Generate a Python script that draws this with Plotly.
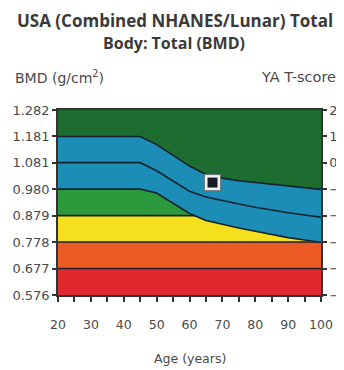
import plotly.graph_objects as go

# ---- data ----
bmd_ticks = [0.576, 0.677, 0.778, 0.879, 0.980, 1.081, 1.181, 1.282]
bmd_tick_labels = ["0.576", "0.677", "0.778", "0.879", "0.980", "1.081", "1.181", "1.282"]
t_ticks = [-5, -4, -3, -2, -1, 0, 1, 2]
age_ticks = [20, 30, 40, 50, 60, 70, 80, 90, 100]

# background bands (bottom to top): lower edge, upper edge, colour
band_lo = [0.576, 0.677, 0.778, 0.879, 0.980]
band_hi = [0.677, 0.778, 0.879, 0.980, 1.282]
band_colors = ["#e0282e", "#ec5a24", "#f4e01c", "#2b9a3c", "#1d6d31"]

# age-matched reference curves
ages = [20, 25, 30, 35, 40, 45, 50, 55, 60, 65, 70, 75, 80, 85, 90, 95, 100]
upper = [1.181, 1.181, 1.181, 1.181, 1.181, 1.181, 1.150, 1.110, 1.068, 1.036, 1.022, 1.012, 1.005, 0.998, 0.992, 0.985, 0.979]
mean = [1.081, 1.081, 1.081, 1.081, 1.081, 1.081, 1.050, 1.010, 0.972, 0.950, 0.936, 0.923, 0.911, 0.900, 0.890, 0.881, 0.873]
lower = [0.980, 0.980, 0.980, 0.980, 0.980, 0.980, 0.965, 0.927, 0.887, 0.860, 0.845, 0.832, 0.819, 0.806, 0.795, 0.786, 0.777]

patient_age = [67]
patient_bmd = [1.005]

x0, x1 = age_ticks[0], age_ticks[-1]
line_col = "#16222e"

fig = go.Figure()

for lo, hi, c in zip(band_lo, band_hi, band_colors):
    fig.add_trace(go.Scatter(x=[x0, x1, x1, x0, x0], y=[lo, lo, hi, hi, lo], fill="toself",
                             fillcolor=c, mode="lines", line=dict(width=0),
                             hoverinfo="skip", showlegend=False))
# band boundary lines
for bnd in band_lo[1:]:
    fig.add_trace(go.Scatter(x=[x0, x1], y=[bnd, bnd], mode="lines",
                             line=dict(color=line_col, width=1.6),
                             hoverinfo="skip", showlegend=False))

# blue reference band
fig.add_trace(go.Scatter(x=ages, y=lower, mode="lines", line=dict(width=0),
                         hoverinfo="skip", showlegend=False))
fig.add_trace(go.Scatter(x=ages, y=upper, mode="lines", line=dict(width=0), fill="tonexty",
                         fillcolor="#1b8db6", hoverinfo="skip", showlegend=False))
for curve in (upper, mean, lower):
    fig.add_trace(go.Scatter(x=ages, y=curve, mode="lines",
                             line=dict(color=line_col, width=1.6),
                             hoverinfo="skip", showlegend=False))

# patient marker
fig.add_trace(go.Scatter(x=patient_age, y=patient_bmd, mode="markers",
                         marker=dict(symbol="square", size=17, color="#6d7a80"),
                         hoverinfo="skip", showlegend=False))
fig.add_trace(go.Scatter(x=patient_age, y=patient_bmd, mode="markers",
                         marker=dict(symbol="square", size=15, color="#f2f2f2"),
                         hoverinfo="skip", showlegend=False))
fig.add_trace(go.Scatter(x=patient_age, y=patient_bmd, mode="markers",
                         marker=dict(symbol="square", size=10, color="#1a1a26"),
                         hoverinfo="skip", showlegend=False))

# secondary axis for T-score
fig.add_trace(go.Scatter(x=[x0], y=[t_ticks[0]], yaxis="y2", mode="markers",
                         marker=dict(opacity=0), hoverinfo="skip", showlegend=False))

# page body has an 8px margin; the figure is sized to fit the window
OFF = 8
W, H = 344 - OFF, 370 - OFF
l, r, t, b = 58 - OFF, 344 - 321, 110 - OFF, 370 - 295
pw, ph = W - l - r, H - t - b

tick_font = "DejaVu Sans, sans-serif"
txt_col = "#4a4a4a"
fig.update_layout(
    width=W, height=H,
    margin=dict(l=l, r=r, t=t, b=b, autoexpand=False),
    paper_bgcolor="white", plot_bgcolor="white",
    font=dict(family=tick_font, size=12, color=txt_col),
    xaxis=dict(range=[x0, x1], tickvals=list(range(x0, x1 + 1, 5)),
               ticktext=[str(a) if a in age_ticks else "" for a in range(x0, x1 + 1, 5)],
               ticks="outside", ticklen=5, tickwidth=1.5, tickcolor="#333",
               showline=True, linecolor="#333", linewidth=1.5, mirror=True,
               showgrid=False, zeroline=False, ticklabelstandoff=12, automargin=False,
               tickfont=dict(family=tick_font, size=12.5, color=txt_col)),
    yaxis=dict(range=[bmd_ticks[0], bmd_ticks[-1]], tickvals=bmd_ticks, ticktext=bmd_tick_labels,
               ticks="outside", ticklen=4, tickwidth=1.5, tickcolor="#333",
               showline=True, linecolor="#333", linewidth=1.5, automargin=False,
               showgrid=False, zeroline=False,
               tickfont=dict(family=tick_font, size=13, color=txt_col)),
    yaxis2=dict(range=[t_ticks[0], t_ticks[-1]], tickvals=t_ticks, overlaying="y", side="right",
                ticks="outside", ticklen=4, tickwidth=1.5, tickcolor="#333",
                showline=True, linecolor="#333", linewidth=1.5, automargin=False,
                showgrid=False, zeroline=False,
                tickfont=dict(family=tick_font, size=13, color=txt_col)),
)

title_font1 = dict(family="Open Sans, sans-serif", size=17, color="#3a3a3a")
title_font2 = dict(family="Open Sans, sans-serif", size=16, color="#3a3a3a")
label_font = dict(family=tick_font, size=14, color=txt_col)
# positions given in reference-picture pixels
ann = [
    ("<b>USA (Combined NHANES/Lunar) Total</b>", 175, 20, "center", title_font1),
    ("<b>Body: Total (BMD)</b>", 174, 43, "center", title_font2),
    ("BMD (g/cm<sup>2</sup>)", 13, 77, "left", label_font),
    ("YA T-score", 259, 77, "left", dict(family=tick_font, size=14.5, color=txt_col)),
    ("Age (years)", 190, 358, "center", dict(family=tick_font, size=12.5, color=txt_col)),
]
for text, px, py, xa, f in ann:
    fx, fy = px - OFF, py - OFF
    fig.add_annotation(text=text, xref="paper", yref="paper",
                       x=(fx - l) / pw, y=(H - b - fy) / ph,
                       xanchor=xa, yanchor="middle", showarrow=False, font=f)

fig.write_html("out.html")
